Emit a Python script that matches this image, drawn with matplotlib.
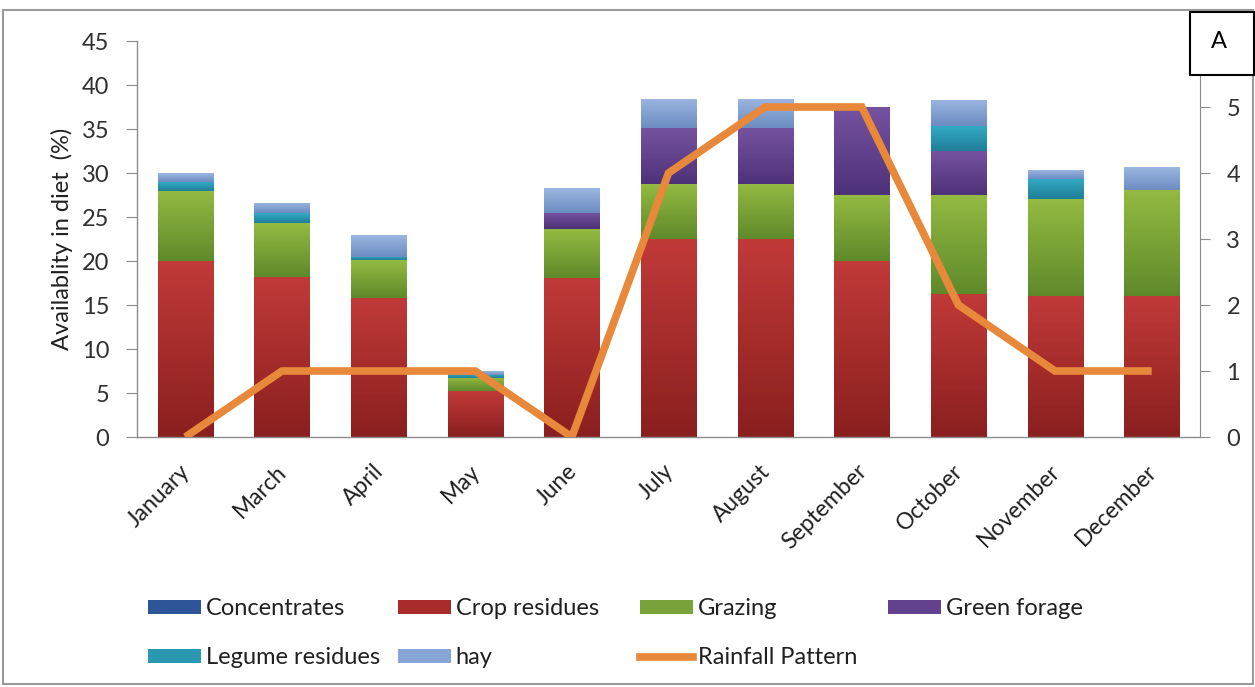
import matplotlib
matplotlib.use("Agg")
import matplotlib.pyplot as plt
import numpy as np
from matplotlib.patches import Rectangle, Patch
from matplotlib.lines import Line2D
import matplotlib.colors as mcolors
import matplotlib.transforms as mtransforms

months = ["January", "March", "April", "May", "June", "July", "August",
          "September", "October", "November", "December"]
concentrates = [0, 0, 0, 0, 0, 0, 0, 0, 0, 0, 0]
crop_residues = [20.0, 18.2, 15.8, 5.2, 18.1, 22.5, 22.5, 20.0, 16.3, 16.0, 16.0]
grazing = [8.0, 6.1, 4.3, 1.5, 5.5, 6.3, 6.3, 7.5, 11.2, 11.0, 12.1]
green_forage = [0, 0, 0, 0, 1.9, 6.3, 6.3, 10.0, 5.0, 0, 0]
legume_residues = [1.0, 1.1, 0.4, 0.4, 0, 0, 0, 0, 2.8, 2.3, 0]
hay = [1.0, 1.2, 2.5, 0.4, 2.8, 3.3, 3.3, 0, 3.0, 1.0, 2.6]
rainfall = [0, 1, 1, 1, 0, 4, 5, 5, 2, 1, 1]

series = [
    ("Concentrates", concentrates, ("#3d64a8", "#23417a")),
    ("Crop residues", crop_residues, ("#c03a38", "#8a1f1f")),
    ("Grazing", grazing, ("#93ba42", "#5f8a2a")),
    ("Green forage", green_forage, ("#7552a0", "#4e3278")),
    ("Legume residues", legume_residues, ("#34a9c4", "#1f7f98")),
    ("hay", hay, ("#9bb6e0", "#6c8cc2")),
]
legend_solid = {"Concentrates": "#2e5597", "Crop residues": "#aa2b2b",
                "Grazing": "#7aa23a", "Green forage": "#62418f",
                "Legume residues": "#2a97b3", "hay": "#86a4d6"}
rain_color = "#e8883a"

FONT = ["Lato", "DejaVu Sans"]
plt.rcParams["font.family"] = FONT

W, H = 1255, 687
fig = plt.figure(figsize=(W / 100, H / 100), dpi=100)
fig.patch.set_facecolor("white")

L, R, B, T = 137, 1200, 437, 41
ax = fig.add_axes([L / W, 1 - B / H, (R - L) / W, (B - T) / H])
x = np.arange(len(months))
width = 0.57
bottom = np.zeros(len(months))
for name, vals, (ctop, cbot) in series:
    vals = np.array(vals, dtype=float)
    bars = ax.bar(x, vals, width, bottom=bottom, color=cbot, edgecolor="none",
                  label=name, zorder=2)
    cmap = mcolors.LinearSegmentedColormap.from_list(name, [cbot, ctop])
    grad = np.linspace(0, 1, 64).reshape(-1, 1)
    for rect in bars:
        h = rect.get_height()
        if h <= 0:
            continue
        x0, y0 = rect.get_x(), rect.get_y()
        im = ax.imshow(grad, cmap=cmap, origin="lower", aspect="auto",
                       extent=[x0, x0 + rect.get_width(), y0, y0 + h],
                       zorder=2.5, interpolation="bilinear")
        im.set_clip_path(rect)
    bottom += vals

ax.set_xlim(-0.5, len(months) - 0.5)
ax.set_ylim(0, 45)
ax.set_yticks(np.arange(0, 46, 5))
ax.set_xticks(x)
ax.set_xticklabels(months, rotation=45, ha="right", rotation_mode="anchor",
                   fontsize=16.5, color="#202020")
ax.tick_params(axis="x", length=0, pad=17)
shift = mtransforms.ScaledTranslation(-6 / 100, 0, fig.dpi_scale_trans)
for lbl in ax.get_xticklabels():
    lbl.set_transform(lbl.get_transform() + shift)
ax.tick_params(axis="y", length=8, color="#8c8c8c", labelsize=17,
               labelcolor="#303030", pad=12)
for s in ["top", "right"]:
    ax.spines[s].set_visible(False)
for s in ["left", "bottom"]:
    ax.spines[s].set_color("#8c8c8c")
    ax.spines[s].set_linewidth(1.0)
ax.set_ylabel("Availablity in diet  (%)", fontsize=17, color="#202020", labelpad=6)

ax2 = ax.twinx()
ax2.plot(x, rainfall, color=rain_color, linewidth=5.5, solid_joinstyle="miter",
         solid_capstyle="butt", zorder=5)
ax2.set_ylim(0, 6)
ax2.set_yticks(range(0, 6))
ax2.tick_params(axis="y", length=7, color="#8c8c8c", labelsize=17,
                labelcolor="#303030", pad=12)
for s in ["top", "left", "bottom"]:
    ax2.spines[s].set_visible(False)
ax2.spines["right"].set_color("#8c8c8c")

# legend, four columns
cols = [148, 398, 640, 888]
row_y = [608, 657]
entries = [
    [("Concentrates", "p"), ("Legume residues", "p")],
    [("Crop residues", "p"), ("hay", "p")],
    [("Grazing", "p"), ("Rainfall Pattern", "l")],
    [("Green forage", "p")],
]
for ci, col in enumerate(entries):
    handles, labels = [], []
    for lab, kind in col:
        if kind == "p":
            handles.append(Patch(facecolor=legend_solid[lab], edgecolor="none"))
        else:
            handles.append(Line2D([0], [0], color=rain_color, linewidth=5.5))
        labels.append(lab)
    leg = fig.legend(handles, labels, loc="upper left",
                     bbox_to_anchor=(cols[ci] / W, 1 - (row_y[0] - 10) / H),
                     frameon=False, fontsize=17, handlelength=2.25,
                     handleheight=0.55, handletextpad=0.2, borderaxespad=0,
                     borderpad=0, labelspacing=1.2)
    for t in leg.get_texts():
        t.set_color("#202020")

# outer frame
fig.add_artist(Rectangle((3 / W, 3 / H), (W - 5) / W, (H - 13) / H,
                         transform=fig.transFigure, fill=False,
                         edgecolor="#9a9a9a", linewidth=1.5))
# panel label box
fig.add_artist(Rectangle((1190 / W, 1 - 75 / H), 64 / W, 63 / H,
                         transform=fig.transFigure, facecolor="white",
                         edgecolor="black", linewidth=1.5, zorder=10))
fig.text(1219 / W, 1 - 42 / H, "A", ha="center", va="center", fontsize=17,
         color="black", zorder=11)

fig.savefig("out.png", dpi=100)
